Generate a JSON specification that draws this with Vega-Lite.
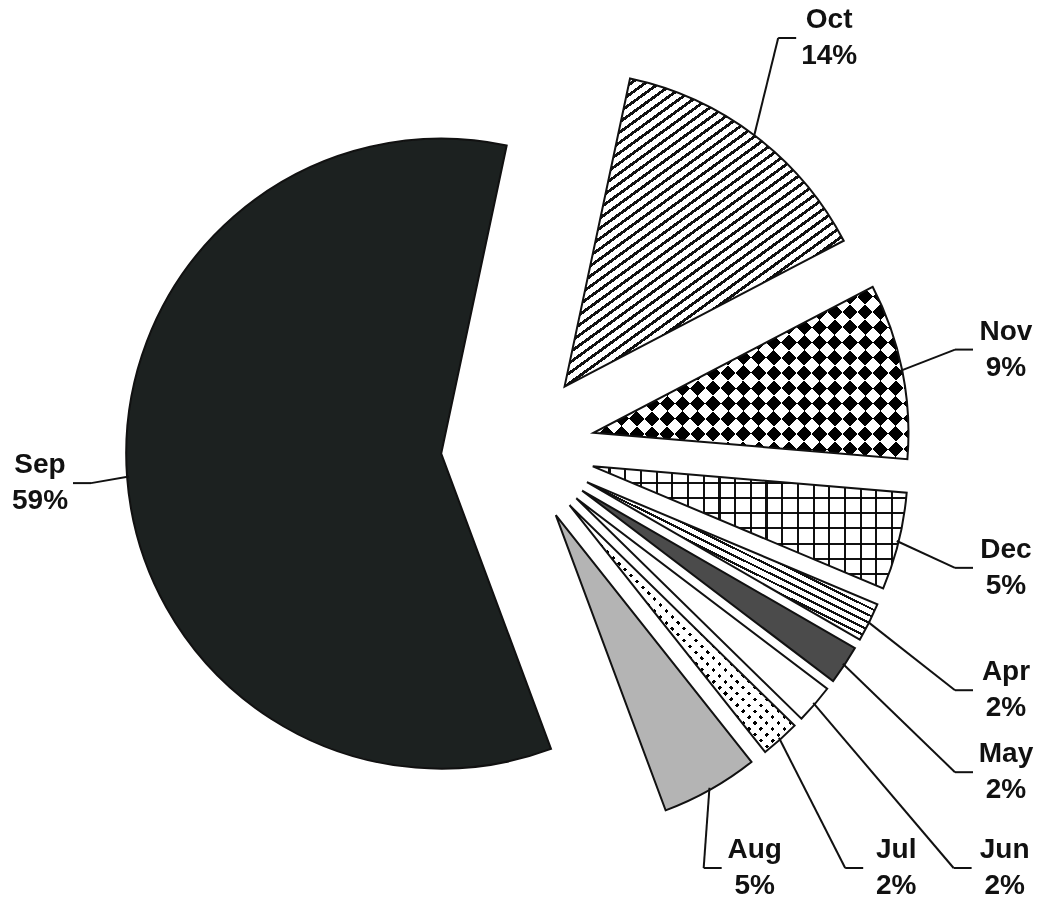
{
  "$schema": "https://vega.github.io/schema/vega-lite/v6.json",
  "width": 1040,
  "height": 901,
  "autosize": "none",
  "padding": 0,
  "background": "#ffffff",
  "config": {"view": {"stroke": null}},
  "data": {
    "values": [
      {"month": "Oct", "pct": 14, "order": 1},
      {"month": "Nov", "pct": 9, "order": 2},
      {"month": "Dec", "pct": 5, "order": 3},
      {"month": "Apr", "pct": 2, "order": 4},
      {"month": "May", "pct": 2, "order": 5},
      {"month": "Jun", "pct": 2, "order": 6},
      {"month": "Jul", "pct": 2, "order": 7},
      {"month": "Aug", "pct": 5, "order": 8},
      {"month": "Sep", "pct": 59, "order": 9}
    ]
  },
  "transform": [
    {"window": [{"op": "sum", "field": "pct", "as": "cum"}], "sort": [{"field": "order"}], "frame": [null, 0]},
    {"calculate": "datum.cum - datum.pct", "as": "start"},
    {"calculate": "(datum.cum - datum.pct / 2) * PI / 50 + 0.2094", "as": "mid"},
    {"calculate": "sin(datum.mid)", "as": "s"},
    {"calculate": "cos(datum.mid)", "as": "c"},
    {"calculate": "77 * datum.s", "as": "ox"},
    {"calculate": "77 * datum.c", "as": "oy"},
    {"calculate": "390 * datum.s", "as": "ax"},
    {"calculate": "390 * datum.c", "as": "ay"},
    {"calculate": "min(datum.s > 0 ? 488 / datum.s : -478 / datum.s, datum.c > 0 ? 410 / datum.c : -420 / datum.c)", "as": "lr"},
    {"calculate": "datum.lr * datum.s", "as": "tx"},
    {"calculate": "datum.lr * datum.c", "as": "ty"},
    {"calculate": "datum.s > 0 ? 1 : -1", "as": "side"},
    {"calculate": "datum.tx - 33 * datum.side", "as": "hx"},
    {"calculate": "datum.hx - 18 * datum.side", "as": "ex"},
    {"calculate": "datum.month + '\\n' + datum.pct + '%'", "as": "label"}
  ],
  "layer": [
    {
      "encoding": {
        "x": {"field": "ox", "type": "quantitative", "scale": {"domain": [-518, 522], "nice": false, "zero": false}, "axis": null},
        "y": {"field": "oy", "type": "quantitative", "scale": {"domain": [-453, 448], "nice": false, "zero": false}, "axis": null},
        "theta": {"field": "start", "type": "quantitative", "stack": null, "scale": {"domain": [0, 100], "range": [0.2094, 6.4926]}},
        "theta2": {"field": "cum"}
      },
      "layer": [
        {
          "mark": {"type": "arc", "outerRadius": 315, "strokeWidth": 0},
          "encoding": {
            "fill": {
              "field": "month", "type": "nominal", "legend": null,
              "scale": {
                "domain": ["Oct", "Nov", "Dec", "Apr", "May", "Jun", "Jul", "Aug", "Sep"],
                "range": ["#ffffff", "#000000", "#ffffff", "#ffffff", "#4b4b4b", "#ffffff", "#000000", "#b4b4b4", "#1c2120"]
              }
            }
          }
        },
        {
          "transform": [{"filter": "datum.month === 'Oct'"}],
          "mark": {"type": "arc", "outerRadius": 315, "strokeWidth": 0, "fill": {"gradient": "linear", "x1": 0, "y1": 0, "x2": 0.761, "y2": 1.157, "stops": [
            {"offset": 0, "color": "#111"}, {"offset": 0.007, "color": "#111"}, {"offset": 0.007, "color": "#fff"}, {"offset": 0.02, "color": "#fff"},
            {"offset": 0.02, "color": "#111"}, {"offset": 0.027, "color": "#111"}, {"offset": 0.027, "color": "#fff"}, {"offset": 0.04, "color": "#fff"},
            {"offset": 0.04, "color": "#111"}, {"offset": 0.047, "color": "#111"}, {"offset": 0.047, "color": "#fff"}, {"offset": 0.06, "color": "#fff"},
            {"offset": 0.06, "color": "#111"}, {"offset": 0.067, "color": "#111"}, {"offset": 0.067, "color": "#fff"}, {"offset": 0.08, "color": "#fff"},
            {"offset": 0.08, "color": "#111"}, {"offset": 0.087, "color": "#111"}, {"offset": 0.087, "color": "#fff"}, {"offset": 0.1, "color": "#fff"},
            {"offset": 0.1, "color": "#111"}, {"offset": 0.107, "color": "#111"}, {"offset": 0.107, "color": "#fff"}, {"offset": 0.12, "color": "#fff"},
            {"offset": 0.12, "color": "#111"}, {"offset": 0.127, "color": "#111"}, {"offset": 0.127, "color": "#fff"}, {"offset": 0.14, "color": "#fff"},
            {"offset": 0.14, "color": "#111"}, {"offset": 0.147, "color": "#111"}, {"offset": 0.147, "color": "#fff"}, {"offset": 0.16, "color": "#fff"},
            {"offset": 0.16, "color": "#111"}, {"offset": 0.167, "color": "#111"}, {"offset": 0.167, "color": "#fff"}, {"offset": 0.18, "color": "#fff"},
            {"offset": 0.18, "color": "#111"}, {"offset": 0.187, "color": "#111"}, {"offset": 0.187, "color": "#fff"}, {"offset": 0.2, "color": "#fff"},
            {"offset": 0.2, "color": "#111"}, {"offset": 0.207, "color": "#111"}, {"offset": 0.207, "color": "#fff"}, {"offset": 0.22, "color": "#fff"},
            {"offset": 0.22, "color": "#111"}, {"offset": 0.227, "color": "#111"}, {"offset": 0.227, "color": "#fff"}, {"offset": 0.24, "color": "#fff"},
            {"offset": 0.24, "color": "#111"}, {"offset": 0.247, "color": "#111"}, {"offset": 0.247, "color": "#fff"}, {"offset": 0.26, "color": "#fff"},
            {"offset": 0.26, "color": "#111"}, {"offset": 0.267, "color": "#111"}, {"offset": 0.267, "color": "#fff"}, {"offset": 0.28, "color": "#fff"},
            {"offset": 0.28, "color": "#111"}, {"offset": 0.287, "color": "#111"}, {"offset": 0.287, "color": "#fff"}, {"offset": 0.3, "color": "#fff"},
            {"offset": 0.3, "color": "#111"}, {"offset": 0.307, "color": "#111"}, {"offset": 0.307, "color": "#fff"}, {"offset": 0.32, "color": "#fff"},
            {"offset": 0.32, "color": "#111"}, {"offset": 0.327, "color": "#111"}, {"offset": 0.327, "color": "#fff"}, {"offset": 0.34, "color": "#fff"},
            {"offset": 0.34, "color": "#111"}, {"offset": 0.347, "color": "#111"}, {"offset": 0.347, "color": "#fff"}, {"offset": 0.36, "color": "#fff"},
            {"offset": 0.36, "color": "#111"}, {"offset": 0.367, "color": "#111"}, {"offset": 0.367, "color": "#fff"}, {"offset": 0.38, "color": "#fff"},
            {"offset": 0.38, "color": "#111"}, {"offset": 0.387, "color": "#111"}, {"offset": 0.387, "color": "#fff"}, {"offset": 0.4, "color": "#fff"},
            {"offset": 0.4, "color": "#111"}, {"offset": 0.407, "color": "#111"}, {"offset": 0.407, "color": "#fff"}, {"offset": 0.42, "color": "#fff"},
            {"offset": 0.42, "color": "#111"}, {"offset": 0.427, "color": "#111"}, {"offset": 0.427, "color": "#fff"}, {"offset": 0.44, "color": "#fff"},
            {"offset": 0.44, "color": "#111"}, {"offset": 0.447, "color": "#111"}, {"offset": 0.447, "color": "#fff"}, {"offset": 0.46, "color": "#fff"},
            {"offset": 0.46, "color": "#111"}, {"offset": 0.467, "color": "#111"}, {"offset": 0.467, "color": "#fff"}, {"offset": 0.48, "color": "#fff"},
            {"offset": 0.48, "color": "#111"}, {"offset": 0.487, "color": "#111"}, {"offset": 0.487, "color": "#fff"}, {"offset": 0.5, "color": "#fff"},
            {"offset": 0.5, "color": "#111"}, {"offset": 0.507, "color": "#111"}, {"offset": 0.507, "color": "#fff"}, {"offset": 0.52, "color": "#fff"},
            {"offset": 0.52, "color": "#111"}, {"offset": 0.527, "color": "#111"}, {"offset": 0.527, "color": "#fff"}, {"offset": 0.54, "color": "#fff"},
            {"offset": 0.54, "color": "#111"}, {"offset": 0.547, "color": "#111"}, {"offset": 0.547, "color": "#fff"}, {"offset": 0.56, "color": "#fff"},
            {"offset": 0.56, "color": "#111"}, {"offset": 0.567, "color": "#111"}, {"offset": 0.567, "color": "#fff"}, {"offset": 0.58, "color": "#fff"},
            {"offset": 0.58, "color": "#111"}, {"offset": 0.587, "color": "#111"}, {"offset": 0.587, "color": "#fff"}, {"offset": 0.6, "color": "#fff"},
            {"offset": 0.6, "color": "#111"}, {"offset": 0.607, "color": "#111"}, {"offset": 0.607, "color": "#fff"}, {"offset": 0.62, "color": "#fff"},
            {"offset": 0.62, "color": "#111"}, {"offset": 0.627, "color": "#111"}, {"offset": 0.627, "color": "#fff"}, {"offset": 0.64, "color": "#fff"},
            {"offset": 0.64, "color": "#111"}, {"offset": 0.647, "color": "#111"}, {"offset": 0.647, "color": "#fff"}, {"offset": 0.66, "color": "#fff"},
            {"offset": 0.66, "color": "#111"}, {"offset": 0.667, "color": "#111"}, {"offset": 0.667, "color": "#fff"}, {"offset": 0.68, "color": "#fff"},
            {"offset": 0.68, "color": "#111"}, {"offset": 0.687, "color": "#111"}, {"offset": 0.687, "color": "#fff"}, {"offset": 0.7, "color": "#fff"},
            {"offset": 0.7, "color": "#111"}, {"offset": 0.707, "color": "#111"}, {"offset": 0.707, "color": "#fff"}, {"offset": 0.72, "color": "#fff"},
            {"offset": 0.72, "color": "#111"}, {"offset": 0.727, "color": "#111"}, {"offset": 0.727, "color": "#fff"}, {"offset": 0.74, "color": "#fff"},
            {"offset": 0.74, "color": "#111"}, {"offset": 0.747, "color": "#111"}, {"offset": 0.747, "color": "#fff"}, {"offset": 0.76, "color": "#fff"},
            {"offset": 0.76, "color": "#111"}, {"offset": 0.767, "color": "#111"}, {"offset": 0.767, "color": "#fff"}, {"offset": 0.78, "color": "#fff"},
            {"offset": 0.78, "color": "#111"}, {"offset": 0.787, "color": "#111"}, {"offset": 0.787, "color": "#fff"}, {"offset": 0.8, "color": "#fff"},
            {"offset": 0.8, "color": "#111"}, {"offset": 0.807, "color": "#111"}, {"offset": 0.807, "color": "#fff"}, {"offset": 0.82, "color": "#fff"},
            {"offset": 0.82, "color": "#111"}, {"offset": 0.827, "color": "#111"}, {"offset": 0.827, "color": "#fff"}, {"offset": 0.84, "color": "#fff"},
            {"offset": 0.84, "color": "#111"}, {"offset": 0.847, "color": "#111"}, {"offset": 0.847, "color": "#fff"}, {"offset": 0.86, "color": "#fff"},
            {"offset": 0.86, "color": "#111"}, {"offset": 0.867, "color": "#111"}, {"offset": 0.867, "color": "#fff"}, {"offset": 0.88, "color": "#fff"},
            {"offset": 0.88, "color": "#111"}, {"offset": 0.887, "color": "#111"}, {"offset": 0.887, "color": "#fff"}, {"offset": 0.9, "color": "#fff"},
            {"offset": 0.9, "color": "#111"}, {"offset": 0.907, "color": "#111"}, {"offset": 0.907, "color": "#fff"}, {"offset": 0.92, "color": "#fff"},
            {"offset": 0.92, "color": "#111"}, {"offset": 0.927, "color": "#111"}, {"offset": 0.927, "color": "#fff"}, {"offset": 0.94, "color": "#fff"},
            {"offset": 0.94, "color": "#111"}, {"offset": 0.947, "color": "#111"}, {"offset": 0.947, "color": "#fff"}, {"offset": 0.96, "color": "#fff"},
            {"offset": 0.96, "color": "#111"}, {"offset": 0.967, "color": "#111"}, {"offset": 0.967, "color": "#fff"}, {"offset": 0.98, "color": "#fff"},
            {"offset": 0.98, "color": "#111"}, {"offset": 0.987, "color": "#111"}, {"offset": 0.987, "color": "#fff"}, {"offset": 1, "color": "#fff"}
          ]}}
        },
        {
          "transform": [{"filter": "datum.month === 'Nov'"}],
          "mark": {"type": "arc", "outerRadius": 315, "strokeWidth": 0, "blend": "difference", "fill": {"gradient": "linear", "x1": 0, "y1": 0, "x2": 1.191, "y2": 0.651, "stops": [
            {"offset": 0, "color": "#fff"}, {"offset": 0.03125, "color": "#fff"}, {"offset": 0.03125, "color": "#000"}, {"offset": 0.0625, "color": "#000"},
            {"offset": 0.0625, "color": "#fff"}, {"offset": 0.09375, "color": "#fff"}, {"offset": 0.09375, "color": "#000"}, {"offset": 0.125, "color": "#000"},
            {"offset": 0.125, "color": "#fff"}, {"offset": 0.15625, "color": "#fff"}, {"offset": 0.15625, "color": "#000"}, {"offset": 0.1875, "color": "#000"},
            {"offset": 0.1875, "color": "#fff"}, {"offset": 0.21875, "color": "#fff"}, {"offset": 0.21875, "color": "#000"}, {"offset": 0.25, "color": "#000"},
            {"offset": 0.25, "color": "#fff"}, {"offset": 0.28125, "color": "#fff"}, {"offset": 0.28125, "color": "#000"}, {"offset": 0.3125, "color": "#000"},
            {"offset": 0.3125, "color": "#fff"}, {"offset": 0.34375, "color": "#fff"}, {"offset": 0.34375, "color": "#000"}, {"offset": 0.375, "color": "#000"},
            {"offset": 0.375, "color": "#fff"}, {"offset": 0.40625, "color": "#fff"}, {"offset": 0.40625, "color": "#000"}, {"offset": 0.4375, "color": "#000"},
            {"offset": 0.4375, "color": "#fff"}, {"offset": 0.46875, "color": "#fff"}, {"offset": 0.46875, "color": "#000"}, {"offset": 0.5, "color": "#000"},
            {"offset": 0.5, "color": "#fff"}, {"offset": 0.53125, "color": "#fff"}, {"offset": 0.53125, "color": "#000"}, {"offset": 0.5625, "color": "#000"},
            {"offset": 0.5625, "color": "#fff"}, {"offset": 0.59375, "color": "#fff"}, {"offset": 0.59375, "color": "#000"}, {"offset": 0.625, "color": "#000"},
            {"offset": 0.625, "color": "#fff"}, {"offset": 0.65625, "color": "#fff"}, {"offset": 0.65625, "color": "#000"}, {"offset": 0.6875, "color": "#000"},
            {"offset": 0.6875, "color": "#fff"}, {"offset": 0.71875, "color": "#fff"}, {"offset": 0.71875, "color": "#000"}, {"offset": 0.75, "color": "#000"},
            {"offset": 0.75, "color": "#fff"}, {"offset": 0.78125, "color": "#fff"}, {"offset": 0.78125, "color": "#000"}, {"offset": 0.8125, "color": "#000"},
            {"offset": 0.8125, "color": "#fff"}, {"offset": 0.84375, "color": "#fff"}, {"offset": 0.84375, "color": "#000"}, {"offset": 0.875, "color": "#000"},
            {"offset": 0.875, "color": "#fff"}, {"offset": 0.90625, "color": "#fff"}, {"offset": 0.90625, "color": "#000"}, {"offset": 0.9375, "color": "#000"},
            {"offset": 0.9375, "color": "#fff"}, {"offset": 0.96875, "color": "#fff"}, {"offset": 0.96875, "color": "#000"}, {"offset": 1, "color": "#000"}
          ]}}
        },
        {
          "transform": [{"filter": "datum.month === 'Nov'"}],
          "mark": {"type": "arc", "outerRadius": 315, "strokeWidth": 0, "blend": "difference", "fill": {"gradient": "linear", "x1": 0, "y1": 1, "x2": 1.191, "y2": 0.349, "stops": [
            {"offset": 0, "color": "#fff"}, {"offset": 0.03125, "color": "#fff"}, {"offset": 0.03125, "color": "#000"}, {"offset": 0.0625, "color": "#000"},
            {"offset": 0.0625, "color": "#fff"}, {"offset": 0.09375, "color": "#fff"}, {"offset": 0.09375, "color": "#000"}, {"offset": 0.125, "color": "#000"},
            {"offset": 0.125, "color": "#fff"}, {"offset": 0.15625, "color": "#fff"}, {"offset": 0.15625, "color": "#000"}, {"offset": 0.1875, "color": "#000"},
            {"offset": 0.1875, "color": "#fff"}, {"offset": 0.21875, "color": "#fff"}, {"offset": 0.21875, "color": "#000"}, {"offset": 0.25, "color": "#000"},
            {"offset": 0.25, "color": "#fff"}, {"offset": 0.28125, "color": "#fff"}, {"offset": 0.28125, "color": "#000"}, {"offset": 0.3125, "color": "#000"},
            {"offset": 0.3125, "color": "#fff"}, {"offset": 0.34375, "color": "#fff"}, {"offset": 0.34375, "color": "#000"}, {"offset": 0.375, "color": "#000"},
            {"offset": 0.375, "color": "#fff"}, {"offset": 0.40625, "color": "#fff"}, {"offset": 0.40625, "color": "#000"}, {"offset": 0.4375, "color": "#000"},
            {"offset": 0.4375, "color": "#fff"}, {"offset": 0.46875, "color": "#fff"}, {"offset": 0.46875, "color": "#000"}, {"offset": 0.5, "color": "#000"},
            {"offset": 0.5, "color": "#fff"}, {"offset": 0.53125, "color": "#fff"}, {"offset": 0.53125, "color": "#000"}, {"offset": 0.5625, "color": "#000"},
            {"offset": 0.5625, "color": "#fff"}, {"offset": 0.59375, "color": "#fff"}, {"offset": 0.59375, "color": "#000"}, {"offset": 0.625, "color": "#000"},
            {"offset": 0.625, "color": "#fff"}, {"offset": 0.65625, "color": "#fff"}, {"offset": 0.65625, "color": "#000"}, {"offset": 0.6875, "color": "#000"},
            {"offset": 0.6875, "color": "#fff"}, {"offset": 0.71875, "color": "#fff"}, {"offset": 0.71875, "color": "#000"}, {"offset": 0.75, "color": "#000"},
            {"offset": 0.75, "color": "#fff"}, {"offset": 0.78125, "color": "#fff"}, {"offset": 0.78125, "color": "#000"}, {"offset": 0.8125, "color": "#000"},
            {"offset": 0.8125, "color": "#fff"}, {"offset": 0.84375, "color": "#fff"}, {"offset": 0.84375, "color": "#000"}, {"offset": 0.875, "color": "#000"},
            {"offset": 0.875, "color": "#fff"}, {"offset": 0.90625, "color": "#fff"}, {"offset": 0.90625, "color": "#000"}, {"offset": 0.9375, "color": "#000"},
            {"offset": 0.9375, "color": "#fff"}, {"offset": 0.96875, "color": "#fff"}, {"offset": 0.96875, "color": "#000"}, {"offset": 1, "color": "#000"}
          ]}}
        },
        {
          "transform": [{"filter": "datum.month === 'Dec'"}],
          "mark": {"type": "arc", "outerRadius": 315, "strokeWidth": 0, "fill": {"gradient": "linear", "x1": 0, "y1": 0, "x2": 1, "y2": 0, "stops": [
            {"offset": 0, "color": "#111"}, {"offset": 0.007, "color": "#111"}, {"offset": 0.007, "color": "#fff"}, {"offset": 0.05, "color": "#fff"},
            {"offset": 0.05, "color": "#111"}, {"offset": 0.057, "color": "#111"}, {"offset": 0.057, "color": "#fff"}, {"offset": 0.1, "color": "#fff"},
            {"offset": 0.1, "color": "#111"}, {"offset": 0.107, "color": "#111"}, {"offset": 0.107, "color": "#fff"}, {"offset": 0.15, "color": "#fff"},
            {"offset": 0.15, "color": "#111"}, {"offset": 0.157, "color": "#111"}, {"offset": 0.157, "color": "#fff"}, {"offset": 0.2, "color": "#fff"},
            {"offset": 0.2, "color": "#111"}, {"offset": 0.207, "color": "#111"}, {"offset": 0.207, "color": "#fff"}, {"offset": 0.25, "color": "#fff"},
            {"offset": 0.25, "color": "#111"}, {"offset": 0.257, "color": "#111"}, {"offset": 0.257, "color": "#fff"}, {"offset": 0.3, "color": "#fff"},
            {"offset": 0.3, "color": "#111"}, {"offset": 0.307, "color": "#111"}, {"offset": 0.307, "color": "#fff"}, {"offset": 0.35, "color": "#fff"},
            {"offset": 0.35, "color": "#111"}, {"offset": 0.357, "color": "#111"}, {"offset": 0.357, "color": "#fff"}, {"offset": 0.4, "color": "#fff"},
            {"offset": 0.4, "color": "#111"}, {"offset": 0.407, "color": "#111"}, {"offset": 0.407, "color": "#fff"}, {"offset": 0.45, "color": "#fff"},
            {"offset": 0.45, "color": "#111"}, {"offset": 0.457, "color": "#111"}, {"offset": 0.457, "color": "#fff"}, {"offset": 0.5, "color": "#fff"},
            {"offset": 0.5, "color": "#111"}, {"offset": 0.507, "color": "#111"}, {"offset": 0.507, "color": "#fff"}, {"offset": 0.55, "color": "#fff"},
            {"offset": 0.55, "color": "#111"}, {"offset": 0.557, "color": "#111"}, {"offset": 0.557, "color": "#fff"}, {"offset": 0.6, "color": "#fff"},
            {"offset": 0.6, "color": "#111"}, {"offset": 0.607, "color": "#111"}, {"offset": 0.607, "color": "#fff"}, {"offset": 0.65, "color": "#fff"},
            {"offset": 0.65, "color": "#111"}, {"offset": 0.657, "color": "#111"}, {"offset": 0.657, "color": "#fff"}, {"offset": 0.7, "color": "#fff"},
            {"offset": 0.7, "color": "#111"}, {"offset": 0.707, "color": "#111"}, {"offset": 0.707, "color": "#fff"}, {"offset": 0.75, "color": "#fff"},
            {"offset": 0.75, "color": "#111"}, {"offset": 0.757, "color": "#111"}, {"offset": 0.757, "color": "#fff"}, {"offset": 0.8, "color": "#fff"},
            {"offset": 0.8, "color": "#111"}, {"offset": 0.807, "color": "#111"}, {"offset": 0.807, "color": "#fff"}, {"offset": 0.85, "color": "#fff"},
            {"offset": 0.85, "color": "#111"}, {"offset": 0.857, "color": "#111"}, {"offset": 0.857, "color": "#fff"}, {"offset": 0.9, "color": "#fff"},
            {"offset": 0.9, "color": "#111"}, {"offset": 0.907, "color": "#111"}, {"offset": 0.907, "color": "#fff"}, {"offset": 0.95, "color": "#fff"},
            {"offset": 0.95, "color": "#111"}, {"offset": 0.957, "color": "#111"}, {"offset": 0.957, "color": "#fff"}, {"offset": 1, "color": "#fff"}
          ]}}
        },
        {
          "transform": [{"filter": "datum.month === 'Dec'"}],
          "mark": {"type": "arc", "outerRadius": 315, "strokeWidth": 0, "blend": "multiply", "fill": {"gradient": "linear", "x1": 0, "y1": 0, "x2": 0, "y2": 1, "stops": [
            {"offset": 0, "color": "#111"}, {"offset": 0.016, "color": "#111"}, {"offset": 0.016, "color": "#fff"}, {"offset": 0.125, "color": "#fff"},
            {"offset": 0.125, "color": "#111"}, {"offset": 0.141, "color": "#111"}, {"offset": 0.141, "color": "#fff"}, {"offset": 0.25, "color": "#fff"},
            {"offset": 0.25, "color": "#111"}, {"offset": 0.266, "color": "#111"}, {"offset": 0.266, "color": "#fff"}, {"offset": 0.375, "color": "#fff"},
            {"offset": 0.375, "color": "#111"}, {"offset": 0.391, "color": "#111"}, {"offset": 0.391, "color": "#fff"}, {"offset": 0.5, "color": "#fff"},
            {"offset": 0.5, "color": "#111"}, {"offset": 0.516, "color": "#111"}, {"offset": 0.516, "color": "#fff"}, {"offset": 0.625, "color": "#fff"},
            {"offset": 0.625, "color": "#111"}, {"offset": 0.641, "color": "#111"}, {"offset": 0.641, "color": "#fff"}, {"offset": 0.75, "color": "#fff"},
            {"offset": 0.75, "color": "#111"}, {"offset": 0.766, "color": "#111"}, {"offset": 0.766, "color": "#fff"}, {"offset": 0.875, "color": "#fff"},
            {"offset": 0.875, "color": "#111"}, {"offset": 0.891, "color": "#111"}, {"offset": 0.891, "color": "#fff"}, {"offset": 1, "color": "#fff"}
          ]}}
        },
        {
          "transform": [{"filter": "datum.month === 'Apr'"}],
          "mark": {"type": "arc", "outerRadius": 315, "strokeWidth": 0, "fill": {"gradient": "linear", "x1": 1, "y1": 0, "x2": 0.046, "y2": 1.0425, "stops": [
            {"offset": 0, "color": "#111"}, {"offset": 0.008, "color": "#111"}, {"offset": 0.008, "color": "#fff"}, {"offset": 0.025, "color": "#fff"},
            {"offset": 0.025, "color": "#111"}, {"offset": 0.033, "color": "#111"}, {"offset": 0.033, "color": "#fff"}, {"offset": 0.05, "color": "#fff"},
            {"offset": 0.05, "color": "#111"}, {"offset": 0.058, "color": "#111"}, {"offset": 0.058, "color": "#fff"}, {"offset": 0.075, "color": "#fff"},
            {"offset": 0.075, "color": "#111"}, {"offset": 0.083, "color": "#111"}, {"offset": 0.083, "color": "#fff"}, {"offset": 0.1, "color": "#fff"},
            {"offset": 0.1, "color": "#111"}, {"offset": 0.108, "color": "#111"}, {"offset": 0.108, "color": "#fff"}, {"offset": 0.125, "color": "#fff"},
            {"offset": 0.125, "color": "#111"}, {"offset": 0.133, "color": "#111"}, {"offset": 0.133, "color": "#fff"}, {"offset": 0.15, "color": "#fff"},
            {"offset": 0.15, "color": "#111"}, {"offset": 0.158, "color": "#111"}, {"offset": 0.158, "color": "#fff"}, {"offset": 0.175, "color": "#fff"},
            {"offset": 0.175, "color": "#111"}, {"offset": 0.183, "color": "#111"}, {"offset": 0.183, "color": "#fff"}, {"offset": 0.2, "color": "#fff"},
            {"offset": 0.2, "color": "#111"}, {"offset": 0.208, "color": "#111"}, {"offset": 0.208, "color": "#fff"}, {"offset": 0.225, "color": "#fff"},
            {"offset": 0.225, "color": "#111"}, {"offset": 0.233, "color": "#111"}, {"offset": 0.233, "color": "#fff"}, {"offset": 0.25, "color": "#fff"},
            {"offset": 0.25, "color": "#111"}, {"offset": 0.258, "color": "#111"}, {"offset": 0.258, "color": "#fff"}, {"offset": 0.275, "color": "#fff"},
            {"offset": 0.275, "color": "#111"}, {"offset": 0.283, "color": "#111"}, {"offset": 0.283, "color": "#fff"}, {"offset": 0.3, "color": "#fff"},
            {"offset": 0.3, "color": "#111"}, {"offset": 0.308, "color": "#111"}, {"offset": 0.308, "color": "#fff"}, {"offset": 0.325, "color": "#fff"},
            {"offset": 0.325, "color": "#111"}, {"offset": 0.333, "color": "#111"}, {"offset": 0.333, "color": "#fff"}, {"offset": 0.35, "color": "#fff"},
            {"offset": 0.35, "color": "#111"}, {"offset": 0.358, "color": "#111"}, {"offset": 0.358, "color": "#fff"}, {"offset": 0.375, "color": "#fff"},
            {"offset": 0.375, "color": "#111"}, {"offset": 0.383, "color": "#111"}, {"offset": 0.383, "color": "#fff"}, {"offset": 0.4, "color": "#fff"},
            {"offset": 0.4, "color": "#111"}, {"offset": 0.408, "color": "#111"}, {"offset": 0.408, "color": "#fff"}, {"offset": 0.425, "color": "#fff"},
            {"offset": 0.425, "color": "#111"}, {"offset": 0.433, "color": "#111"}, {"offset": 0.433, "color": "#fff"}, {"offset": 0.45, "color": "#fff"},
            {"offset": 0.45, "color": "#111"}, {"offset": 0.458, "color": "#111"}, {"offset": 0.458, "color": "#fff"}, {"offset": 0.475, "color": "#fff"},
            {"offset": 0.475, "color": "#111"}, {"offset": 0.483, "color": "#111"}, {"offset": 0.483, "color": "#fff"}, {"offset": 0.5, "color": "#fff"},
            {"offset": 0.5, "color": "#111"}, {"offset": 0.508, "color": "#111"}, {"offset": 0.508, "color": "#fff"}, {"offset": 0.525, "color": "#fff"},
            {"offset": 0.525, "color": "#111"}, {"offset": 0.533, "color": "#111"}, {"offset": 0.533, "color": "#fff"}, {"offset": 0.55, "color": "#fff"},
            {"offset": 0.55, "color": "#111"}, {"offset": 0.558, "color": "#111"}, {"offset": 0.558, "color": "#fff"}, {"offset": 0.575, "color": "#fff"},
            {"offset": 0.575, "color": "#111"}, {"offset": 0.583, "color": "#111"}, {"offset": 0.583, "color": "#fff"}, {"offset": 0.6, "color": "#fff"},
            {"offset": 0.6, "color": "#111"}, {"offset": 0.608, "color": "#111"}, {"offset": 0.608, "color": "#fff"}, {"offset": 0.625, "color": "#fff"},
            {"offset": 0.625, "color": "#111"}, {"offset": 0.633, "color": "#111"}, {"offset": 0.633, "color": "#fff"}, {"offset": 0.65, "color": "#fff"},
            {"offset": 0.65, "color": "#111"}, {"offset": 0.658, "color": "#111"}, {"offset": 0.658, "color": "#fff"}, {"offset": 0.675, "color": "#fff"},
            {"offset": 0.675, "color": "#111"}, {"offset": 0.683, "color": "#111"}, {"offset": 0.683, "color": "#fff"}, {"offset": 0.7, "color": "#fff"},
            {"offset": 0.7, "color": "#111"}, {"offset": 0.708, "color": "#111"}, {"offset": 0.708, "color": "#fff"}, {"offset": 0.725, "color": "#fff"},
            {"offset": 0.725, "color": "#111"}, {"offset": 0.733, "color": "#111"}, {"offset": 0.733, "color": "#fff"}, {"offset": 0.75, "color": "#fff"},
            {"offset": 0.75, "color": "#111"}, {"offset": 0.758, "color": "#111"}, {"offset": 0.758, "color": "#fff"}, {"offset": 0.775, "color": "#fff"},
            {"offset": 0.775, "color": "#111"}, {"offset": 0.783, "color": "#111"}, {"offset": 0.783, "color": "#fff"}, {"offset": 0.8, "color": "#fff"},
            {"offset": 0.8, "color": "#111"}, {"offset": 0.808, "color": "#111"}, {"offset": 0.808, "color": "#fff"}, {"offset": 0.825, "color": "#fff"},
            {"offset": 0.825, "color": "#111"}, {"offset": 0.833, "color": "#111"}, {"offset": 0.833, "color": "#fff"}, {"offset": 0.85, "color": "#fff"},
            {"offset": 0.85, "color": "#111"}, {"offset": 0.858, "color": "#111"}, {"offset": 0.858, "color": "#fff"}, {"offset": 0.875, "color": "#fff"},
            {"offset": 0.875, "color": "#111"}, {"offset": 0.883, "color": "#111"}, {"offset": 0.883, "color": "#fff"}, {"offset": 0.9, "color": "#fff"},
            {"offset": 0.9, "color": "#111"}, {"offset": 0.908, "color": "#111"}, {"offset": 0.908, "color": "#fff"}, {"offset": 0.925, "color": "#fff"},
            {"offset": 0.925, "color": "#111"}, {"offset": 0.933, "color": "#111"}, {"offset": 0.933, "color": "#fff"}, {"offset": 0.95, "color": "#fff"},
            {"offset": 0.95, "color": "#111"}, {"offset": 0.958, "color": "#111"}, {"offset": 0.958, "color": "#fff"}, {"offset": 0.975, "color": "#fff"},
            {"offset": 0.975, "color": "#111"}, {"offset": 0.983, "color": "#111"}, {"offset": 0.983, "color": "#fff"}, {"offset": 1, "color": "#fff"}
          ]}}
        },
        {
          "transform": [{"filter": "datum.month === 'Jul'"}],
          "mark": {"type": "arc", "outerRadius": 315, "strokeWidth": 0, "blend": "screen", "fill": {"gradient": "linear", "x1": 0, "y1": 0, "x2": 0.952, "y2": 1.044, "stops": [
            {"offset": 0, "color": "#000"}, {"offset": 0.009, "color": "#000"}, {"offset": 0.009, "color": "#fff"}, {"offset": 0.025, "color": "#fff"},
            {"offset": 0.025, "color": "#000"}, {"offset": 0.034, "color": "#000"}, {"offset": 0.034, "color": "#fff"}, {"offset": 0.05, "color": "#fff"},
            {"offset": 0.05, "color": "#000"}, {"offset": 0.059, "color": "#000"}, {"offset": 0.059, "color": "#fff"}, {"offset": 0.075, "color": "#fff"},
            {"offset": 0.075, "color": "#000"}, {"offset": 0.084, "color": "#000"}, {"offset": 0.084, "color": "#fff"}, {"offset": 0.1, "color": "#fff"},
            {"offset": 0.1, "color": "#000"}, {"offset": 0.109, "color": "#000"}, {"offset": 0.109, "color": "#fff"}, {"offset": 0.125, "color": "#fff"},
            {"offset": 0.125, "color": "#000"}, {"offset": 0.134, "color": "#000"}, {"offset": 0.134, "color": "#fff"}, {"offset": 0.15, "color": "#fff"},
            {"offset": 0.15, "color": "#000"}, {"offset": 0.159, "color": "#000"}, {"offset": 0.159, "color": "#fff"}, {"offset": 0.175, "color": "#fff"},
            {"offset": 0.175, "color": "#000"}, {"offset": 0.184, "color": "#000"}, {"offset": 0.184, "color": "#fff"}, {"offset": 0.2, "color": "#fff"},
            {"offset": 0.2, "color": "#000"}, {"offset": 0.209, "color": "#000"}, {"offset": 0.209, "color": "#fff"}, {"offset": 0.225, "color": "#fff"},
            {"offset": 0.225, "color": "#000"}, {"offset": 0.234, "color": "#000"}, {"offset": 0.234, "color": "#fff"}, {"offset": 0.25, "color": "#fff"},
            {"offset": 0.25, "color": "#000"}, {"offset": 0.259, "color": "#000"}, {"offset": 0.259, "color": "#fff"}, {"offset": 0.275, "color": "#fff"},
            {"offset": 0.275, "color": "#000"}, {"offset": 0.284, "color": "#000"}, {"offset": 0.284, "color": "#fff"}, {"offset": 0.3, "color": "#fff"},
            {"offset": 0.3, "color": "#000"}, {"offset": 0.309, "color": "#000"}, {"offset": 0.309, "color": "#fff"}, {"offset": 0.325, "color": "#fff"},
            {"offset": 0.325, "color": "#000"}, {"offset": 0.334, "color": "#000"}, {"offset": 0.334, "color": "#fff"}, {"offset": 0.35, "color": "#fff"},
            {"offset": 0.35, "color": "#000"}, {"offset": 0.359, "color": "#000"}, {"offset": 0.359, "color": "#fff"}, {"offset": 0.375, "color": "#fff"},
            {"offset": 0.375, "color": "#000"}, {"offset": 0.384, "color": "#000"}, {"offset": 0.384, "color": "#fff"}, {"offset": 0.4, "color": "#fff"},
            {"offset": 0.4, "color": "#000"}, {"offset": 0.409, "color": "#000"}, {"offset": 0.409, "color": "#fff"}, {"offset": 0.425, "color": "#fff"},
            {"offset": 0.425, "color": "#000"}, {"offset": 0.434, "color": "#000"}, {"offset": 0.434, "color": "#fff"}, {"offset": 0.45, "color": "#fff"},
            {"offset": 0.45, "color": "#000"}, {"offset": 0.459, "color": "#000"}, {"offset": 0.459, "color": "#fff"}, {"offset": 0.475, "color": "#fff"},
            {"offset": 0.475, "color": "#000"}, {"offset": 0.484, "color": "#000"}, {"offset": 0.484, "color": "#fff"}, {"offset": 0.5, "color": "#fff"},
            {"offset": 0.5, "color": "#000"}, {"offset": 0.509, "color": "#000"}, {"offset": 0.509, "color": "#fff"}, {"offset": 0.525, "color": "#fff"},
            {"offset": 0.525, "color": "#000"}, {"offset": 0.534, "color": "#000"}, {"offset": 0.534, "color": "#fff"}, {"offset": 0.55, "color": "#fff"},
            {"offset": 0.55, "color": "#000"}, {"offset": 0.559, "color": "#000"}, {"offset": 0.559, "color": "#fff"}, {"offset": 0.575, "color": "#fff"},
            {"offset": 0.575, "color": "#000"}, {"offset": 0.584, "color": "#000"}, {"offset": 0.584, "color": "#fff"}, {"offset": 0.6, "color": "#fff"},
            {"offset": 0.6, "color": "#000"}, {"offset": 0.609, "color": "#000"}, {"offset": 0.609, "color": "#fff"}, {"offset": 0.625, "color": "#fff"},
            {"offset": 0.625, "color": "#000"}, {"offset": 0.634, "color": "#000"}, {"offset": 0.634, "color": "#fff"}, {"offset": 0.65, "color": "#fff"},
            {"offset": 0.65, "color": "#000"}, {"offset": 0.659, "color": "#000"}, {"offset": 0.659, "color": "#fff"}, {"offset": 0.675, "color": "#fff"},
            {"offset": 0.675, "color": "#000"}, {"offset": 0.684, "color": "#000"}, {"offset": 0.684, "color": "#fff"}, {"offset": 0.7, "color": "#fff"},
            {"offset": 0.7, "color": "#000"}, {"offset": 0.709, "color": "#000"}, {"offset": 0.709, "color": "#fff"}, {"offset": 0.725, "color": "#fff"},
            {"offset": 0.725, "color": "#000"}, {"offset": 0.734, "color": "#000"}, {"offset": 0.734, "color": "#fff"}, {"offset": 0.75, "color": "#fff"},
            {"offset": 0.75, "color": "#000"}, {"offset": 0.759, "color": "#000"}, {"offset": 0.759, "color": "#fff"}, {"offset": 0.775, "color": "#fff"},
            {"offset": 0.775, "color": "#000"}, {"offset": 0.784, "color": "#000"}, {"offset": 0.784, "color": "#fff"}, {"offset": 0.8, "color": "#fff"},
            {"offset": 0.8, "color": "#000"}, {"offset": 0.809, "color": "#000"}, {"offset": 0.809, "color": "#fff"}, {"offset": 0.825, "color": "#fff"},
            {"offset": 0.825, "color": "#000"}, {"offset": 0.834, "color": "#000"}, {"offset": 0.834, "color": "#fff"}, {"offset": 0.85, "color": "#fff"},
            {"offset": 0.85, "color": "#000"}, {"offset": 0.859, "color": "#000"}, {"offset": 0.859, "color": "#fff"}, {"offset": 0.875, "color": "#fff"},
            {"offset": 0.875, "color": "#000"}, {"offset": 0.884, "color": "#000"}, {"offset": 0.884, "color": "#fff"}, {"offset": 0.9, "color": "#fff"},
            {"offset": 0.9, "color": "#000"}, {"offset": 0.909, "color": "#000"}, {"offset": 0.909, "color": "#fff"}, {"offset": 0.925, "color": "#fff"},
            {"offset": 0.925, "color": "#000"}, {"offset": 0.934, "color": "#000"}, {"offset": 0.934, "color": "#fff"}, {"offset": 0.95, "color": "#fff"},
            {"offset": 0.95, "color": "#000"}, {"offset": 0.959, "color": "#000"}, {"offset": 0.959, "color": "#fff"}, {"offset": 0.975, "color": "#fff"},
            {"offset": 0.975, "color": "#000"}, {"offset": 0.984, "color": "#000"}, {"offset": 0.984, "color": "#fff"}, {"offset": 1, "color": "#fff"}
          ]}}
        },
        {
          "transform": [{"filter": "datum.month === 'Jul'"}],
          "mark": {"type": "arc", "outerRadius": 315, "strokeWidth": 0, "blend": "screen", "fill": {"gradient": "linear", "x1": 0, "y1": 1, "x2": 0.952, "y2": -0.044, "stops": [
            {"offset": 0, "color": "#000"}, {"offset": 0.009, "color": "#000"}, {"offset": 0.009, "color": "#fff"}, {"offset": 0.025, "color": "#fff"},
            {"offset": 0.025, "color": "#000"}, {"offset": 0.034, "color": "#000"}, {"offset": 0.034, "color": "#fff"}, {"offset": 0.05, "color": "#fff"},
            {"offset": 0.05, "color": "#000"}, {"offset": 0.059, "color": "#000"}, {"offset": 0.059, "color": "#fff"}, {"offset": 0.075, "color": "#fff"},
            {"offset": 0.075, "color": "#000"}, {"offset": 0.084, "color": "#000"}, {"offset": 0.084, "color": "#fff"}, {"offset": 0.1, "color": "#fff"},
            {"offset": 0.1, "color": "#000"}, {"offset": 0.109, "color": "#000"}, {"offset": 0.109, "color": "#fff"}, {"offset": 0.125, "color": "#fff"},
            {"offset": 0.125, "color": "#000"}, {"offset": 0.134, "color": "#000"}, {"offset": 0.134, "color": "#fff"}, {"offset": 0.15, "color": "#fff"},
            {"offset": 0.15, "color": "#000"}, {"offset": 0.159, "color": "#000"}, {"offset": 0.159, "color": "#fff"}, {"offset": 0.175, "color": "#fff"},
            {"offset": 0.175, "color": "#000"}, {"offset": 0.184, "color": "#000"}, {"offset": 0.184, "color": "#fff"}, {"offset": 0.2, "color": "#fff"},
            {"offset": 0.2, "color": "#000"}, {"offset": 0.209, "color": "#000"}, {"offset": 0.209, "color": "#fff"}, {"offset": 0.225, "color": "#fff"},
            {"offset": 0.225, "color": "#000"}, {"offset": 0.234, "color": "#000"}, {"offset": 0.234, "color": "#fff"}, {"offset": 0.25, "color": "#fff"},
            {"offset": 0.25, "color": "#000"}, {"offset": 0.259, "color": "#000"}, {"offset": 0.259, "color": "#fff"}, {"offset": 0.275, "color": "#fff"},
            {"offset": 0.275, "color": "#000"}, {"offset": 0.284, "color": "#000"}, {"offset": 0.284, "color": "#fff"}, {"offset": 0.3, "color": "#fff"},
            {"offset": 0.3, "color": "#000"}, {"offset": 0.309, "color": "#000"}, {"offset": 0.309, "color": "#fff"}, {"offset": 0.325, "color": "#fff"},
            {"offset": 0.325, "color": "#000"}, {"offset": 0.334, "color": "#000"}, {"offset": 0.334, "color": "#fff"}, {"offset": 0.35, "color": "#fff"},
            {"offset": 0.35, "color": "#000"}, {"offset": 0.359, "color": "#000"}, {"offset": 0.359, "color": "#fff"}, {"offset": 0.375, "color": "#fff"},
            {"offset": 0.375, "color": "#000"}, {"offset": 0.384, "color": "#000"}, {"offset": 0.384, "color": "#fff"}, {"offset": 0.4, "color": "#fff"},
            {"offset": 0.4, "color": "#000"}, {"offset": 0.409, "color": "#000"}, {"offset": 0.409, "color": "#fff"}, {"offset": 0.425, "color": "#fff"},
            {"offset": 0.425, "color": "#000"}, {"offset": 0.434, "color": "#000"}, {"offset": 0.434, "color": "#fff"}, {"offset": 0.45, "color": "#fff"},
            {"offset": 0.45, "color": "#000"}, {"offset": 0.459, "color": "#000"}, {"offset": 0.459, "color": "#fff"}, {"offset": 0.475, "color": "#fff"},
            {"offset": 0.475, "color": "#000"}, {"offset": 0.484, "color": "#000"}, {"offset": 0.484, "color": "#fff"}, {"offset": 0.5, "color": "#fff"},
            {"offset": 0.5, "color": "#000"}, {"offset": 0.509, "color": "#000"}, {"offset": 0.509, "color": "#fff"}, {"offset": 0.525, "color": "#fff"},
            {"offset": 0.525, "color": "#000"}, {"offset": 0.534, "color": "#000"}, {"offset": 0.534, "color": "#fff"}, {"offset": 0.55, "color": "#fff"},
            {"offset": 0.55, "color": "#000"}, {"offset": 0.559, "color": "#000"}, {"offset": 0.559, "color": "#fff"}, {"offset": 0.575, "color": "#fff"},
            {"offset": 0.575, "color": "#000"}, {"offset": 0.584, "color": "#000"}, {"offset": 0.584, "color": "#fff"}, {"offset": 0.6, "color": "#fff"},
            {"offset": 0.6, "color": "#000"}, {"offset": 0.609, "color": "#000"}, {"offset": 0.609, "color": "#fff"}, {"offset": 0.625, "color": "#fff"},
            {"offset": 0.625, "color": "#000"}, {"offset": 0.634, "color": "#000"}, {"offset": 0.634, "color": "#fff"}, {"offset": 0.65, "color": "#fff"},
            {"offset": 0.65, "color": "#000"}, {"offset": 0.659, "color": "#000"}, {"offset": 0.659, "color": "#fff"}, {"offset": 0.675, "color": "#fff"},
            {"offset": 0.675, "color": "#000"}, {"offset": 0.684, "color": "#000"}, {"offset": 0.684, "color": "#fff"}, {"offset": 0.7, "color": "#fff"},
            {"offset": 0.7, "color": "#000"}, {"offset": 0.709, "color": "#000"}, {"offset": 0.709, "color": "#fff"}, {"offset": 0.725, "color": "#fff"},
            {"offset": 0.725, "color": "#000"}, {"offset": 0.734, "color": "#000"}, {"offset": 0.734, "color": "#fff"}, {"offset": 0.75, "color": "#fff"},
            {"offset": 0.75, "color": "#000"}, {"offset": 0.759, "color": "#000"}, {"offset": 0.759, "color": "#fff"}, {"offset": 0.775, "color": "#fff"},
            {"offset": 0.775, "color": "#000"}, {"offset": 0.784, "color": "#000"}, {"offset": 0.784, "color": "#fff"}, {"offset": 0.8, "color": "#fff"},
            {"offset": 0.8, "color": "#000"}, {"offset": 0.809, "color": "#000"}, {"offset": 0.809, "color": "#fff"}, {"offset": 0.825, "color": "#fff"},
            {"offset": 0.825, "color": "#000"}, {"offset": 0.834, "color": "#000"}, {"offset": 0.834, "color": "#fff"}, {"offset": 0.85, "color": "#fff"},
            {"offset": 0.85, "color": "#000"}, {"offset": 0.859, "color": "#000"}, {"offset": 0.859, "color": "#fff"}, {"offset": 0.875, "color": "#fff"},
            {"offset": 0.875, "color": "#000"}, {"offset": 0.884, "color": "#000"}, {"offset": 0.884, "color": "#fff"}, {"offset": 0.9, "color": "#fff"},
            {"offset": 0.9, "color": "#000"}, {"offset": 0.909, "color": "#000"}, {"offset": 0.909, "color": "#fff"}, {"offset": 0.925, "color": "#fff"},
            {"offset": 0.925, "color": "#000"}, {"offset": 0.934, "color": "#000"}, {"offset": 0.934, "color": "#fff"}, {"offset": 0.95, "color": "#fff"},
            {"offset": 0.95, "color": "#000"}, {"offset": 0.959, "color": "#000"}, {"offset": 0.959, "color": "#fff"}, {"offset": 0.975, "color": "#fff"},
            {"offset": 0.975, "color": "#000"}, {"offset": 0.984, "color": "#000"}, {"offset": 0.984, "color": "#fff"}, {"offset": 1, "color": "#fff"}
          ]}}
        },
        {
          "mark": {"type": "arc", "outerRadius": 315, "fill": "#ffffff", "fillOpacity": 0, "stroke": "#111111", "strokeWidth": 2}
        }
      ]
    },
    {
      "mark": {"type": "rule", "stroke": "#111111", "strokeWidth": 2},
      "encoding": {
        "x": {"field": "ax", "type": "quantitative", "scale": {"domain": [-518, 522], "nice": false, "zero": false}, "axis": null},
        "y": {"field": "ay", "type": "quantitative", "scale": {"domain": [-453, 448], "nice": false, "zero": false}, "axis": null},
        "x2": {"field": "ex"},
        "y2": {"field": "ty"}
      }
    },
    {
      "mark": {"type": "rule", "stroke": "#111111", "strokeWidth": 2},
      "encoding": {
        "x": {"field": "ex", "type": "quantitative", "scale": {"domain": [-518, 522], "nice": false, "zero": false}, "axis": null},
        "y": {"field": "ty", "type": "quantitative", "scale": {"domain": [-453, 448], "nice": false, "zero": false}, "axis": null},
        "x2": {"field": "hx"}
      }
    },
    {
      "mark": {"type": "text", "align": "center", "baseline": "middle", "dy": -18, "font": "Liberation Sans", "fontWeight": "bold", "fontSize": 28, "lineHeight": 36, "lineBreak": "\n", "color": "#111111"},
      "encoding": {
        "x": {"field": "tx", "type": "quantitative", "scale": {"domain": [-518, 522], "nice": false, "zero": false}, "axis": null},
        "y": {"field": "ty", "type": "quantitative", "scale": {"domain": [-453, 448], "nice": false, "zero": false}, "axis": null},
        "text": {"field": "label"}
      }
    }
  ]
}
